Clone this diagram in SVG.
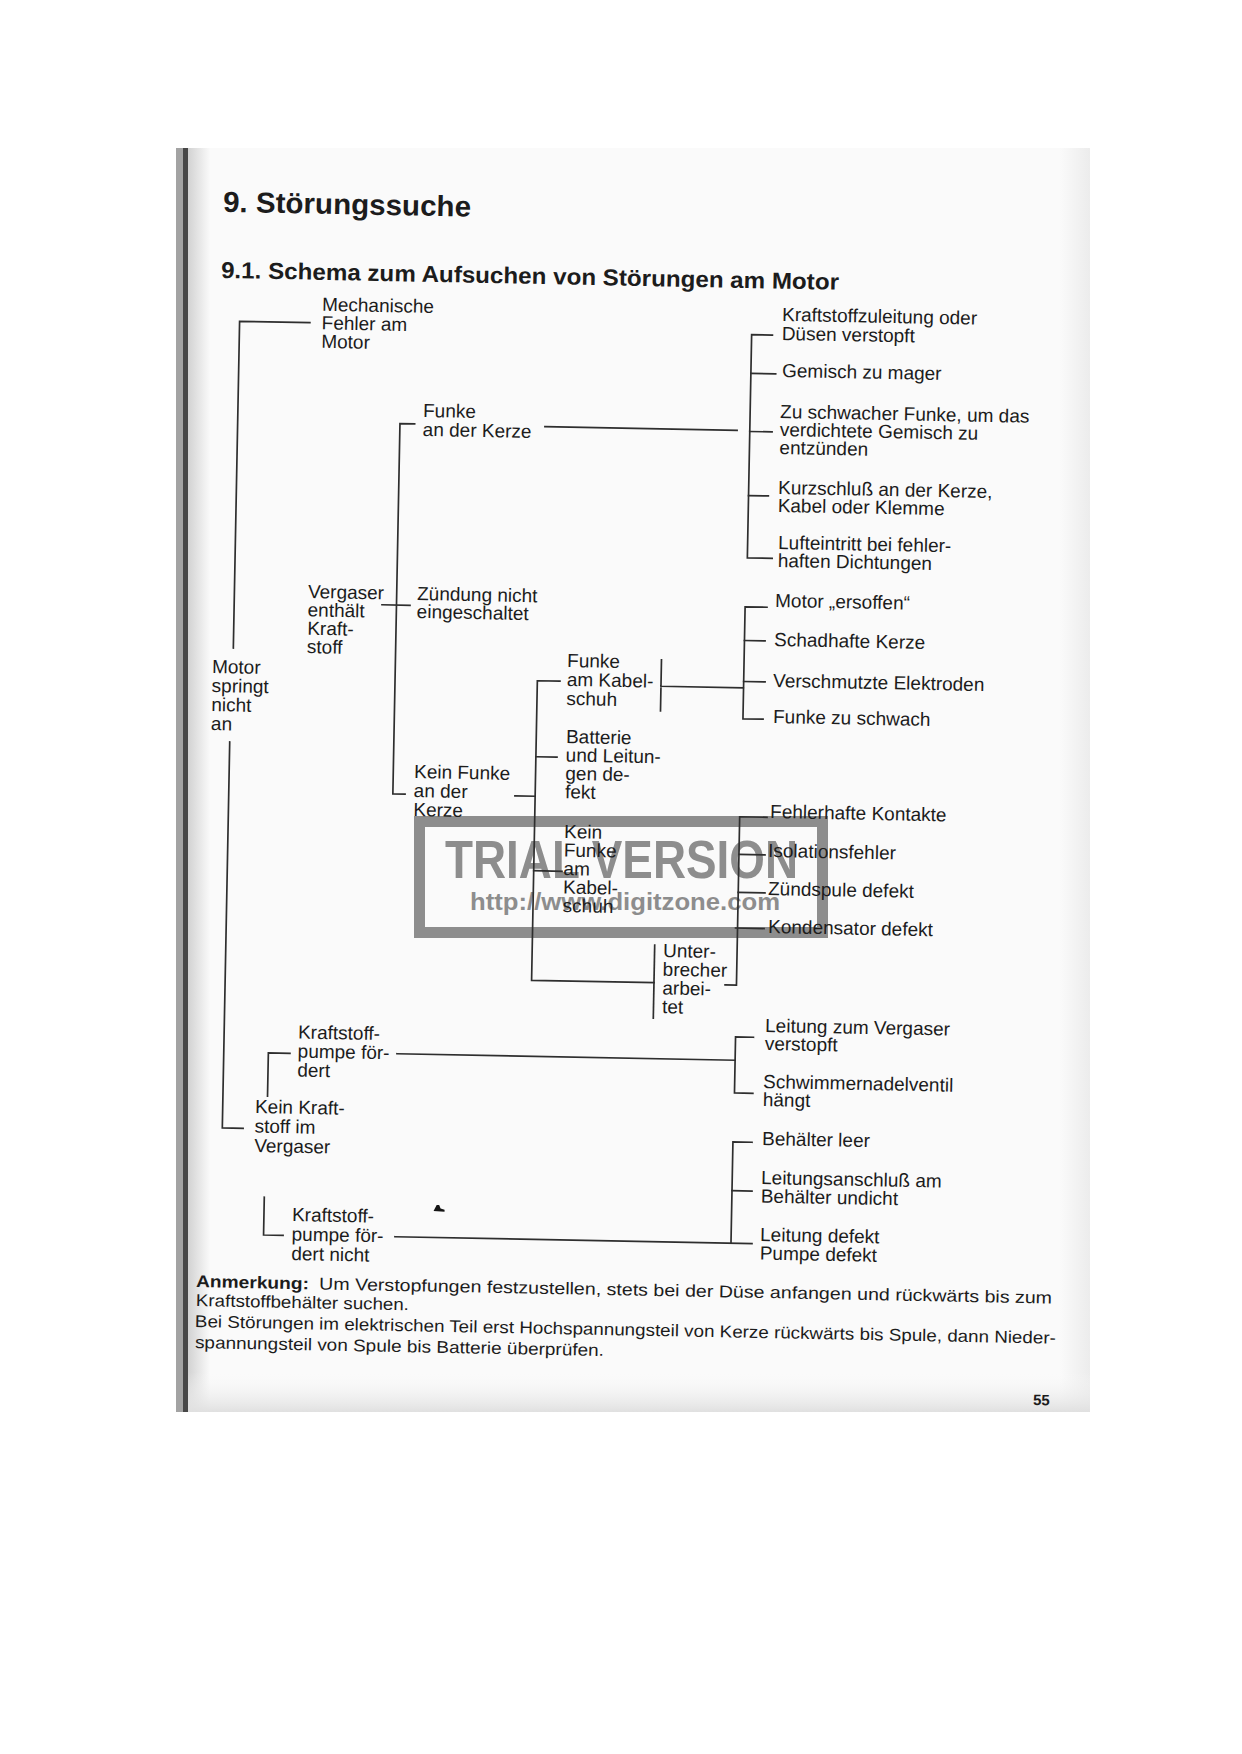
<svg xmlns="http://www.w3.org/2000/svg" width="1242" height="1754" viewBox="0 0 1242 1754">
<defs>
<style>
.t{font-family:"Liberation Sans",Arial,Helvetica,sans-serif;font-size:19px;fill:#1c1c1c}
.b{font-weight:bold}
.c{fill:none;stroke:#2e2e2e;stroke-width:1.7;stroke-linecap:square}
.wm{font-family:"Liberation Sans",Arial,Helvetica,sans-serif;font-weight:bold;fill:#8d8d8d}
</style>
<linearGradient id="lg" x1="0" y1="0" x2="1" y2="0">
<stop offset="0" stop-color="#d2d2d2"/>
<stop offset="1" stop-color="#fafafa"/>
</linearGradient>
<linearGradient id="bb" x1="0" y1="0" x2="0" y2="1">
<stop offset="0" stop-color="#fafafa" stop-opacity="0"/>
<stop offset="1" stop-color="#e0e0e0"/>
</linearGradient>
<linearGradient id="rb" x1="0" y1="0" x2="1" y2="0">
<stop offset="0" stop-color="#fafafa"/>
<stop offset="1" stop-color="#ececec"/>
</linearGradient>
</defs>
<rect width="1242" height="1754" fill="#ffffff"/>
<g id="page">
<rect x="176" y="148" width="914" height="1264" fill="#fafafa"/>
<rect x="1060" y="148" width="30" height="1264" fill="url(#rb)"/>
<rect x="188" y="148" width="22" height="1264" fill="url(#lg)"/>
<rect x="176" y="1372" width="914" height="40" fill="url(#bb)"/>
<rect x="176" y="148" width="7" height="1264" fill="#a3a3a3"/>
<rect x="183" y="148" width="5" height="1264" fill="#474747"/>
</g>
<g id="watermark">
<rect x="419.5" y="821.5" width="403" height="111" fill="none" stroke="#8d8d8d" stroke-width="11"/>
<text class="wm" x="445" y="878" style="font-size:53px" textLength="353" lengthAdjust="spacingAndGlyphs">TRIAL VERSION</text>
<text class="wm" x="470" y="910" style="font-size:23px" textLength="310" lengthAdjust="spacingAndGlyphs">http://www.digitzone.com</text>
</g>
<g id="content" transform="rotate(1.1 621 877)">
<g id="titles">
<text class="t b" x="210.2" y="219.6" style="font-size:29px" textLength="248" lengthAdjust="spacingAndGlyphs">9. Störungssuche</text>
<text class="t b" x="209.5" y="285.7" style="font-size:23px" textLength="618" lengthAdjust="spacingAndGlyphs">9.1. Schema zum Aufsuchen von Störungen am Motor</text>
</g>
<g id="connectors">
<path class="c" d="M299.3,328.7 H229 V655.5"/>
<path class="c" d="M227.2,749.5 V1135.5 H248"/>
<path class="c" d="M406,428 H391.3 V798.2 H403.5"/>
<path class="c" d="M376.8,609.4 H404.8"/>
<path class="c" d="M536.3,428.2 H728.5"/>
<path class="c" d="M762,332.3 H741.2 V555.5 H766"/>
<path class="c" d="M741.2,371 H766 M741.2,429.1 H763.5 M741.2,493.2 H761"/>
<path class="c" d="M761.8,604.5 H739.9 V716.5 H760"/>
<path class="c" d="M739.9,638.2 H760.5 M739.9,679.2 H761.3"/>
<path class="c" d="M657.3,659.2 V710.2 M657.3,685.5 H739.6"/>
<path class="c" d="M513.4,797.9 H533.6"/>
<path class="c" d="M556.2,682.4 H533.6 V982 H656"/>
<path class="c" d="M533.6,758.4 H554.7 M533.6,872.4 H561.9"/>
<path class="c" d="M656,944.4 V1017.4"/>
<path class="c" d="M727.1,982.9 H738.5 V814.5 H765.8"/>
<path class="c" d="M738.5,852.2 H764.6 M738.5,890.2 H765.3 M736.5,925.8 H765"/>
<path class="c" d="M293.4,1059.6 H271.8 V1102.8"/>
<path class="c" d="M400.4,1058 H738.6"/>
<path class="c" d="M756.5,1034.7 H738.6 V1090.7 H757"/>
<path class="c" d="M270.5,1204 V1241.8 H290"/>
<path class="c" d="M401.9,1241 H759"/>
<path class="c" d="M757.1,1139.7 H738 V1241"/>
<path class="c" d="M738,1188.5 H758"/>
</g>
<g id="n-root"><text class="t" x="208.1" y="680.9">Motor<tspan x="208.1" dy="19">springt</tspan><tspan x="208.1" dy="19">nicht</tspan><tspan x="208.1" dy="19">an</tspan></text></g>
<g id="n-mech"><text class="t" x="311.1" y="316.7">Mechanische<tspan x="311.1" dy="18.5">Fehler am</tspan><tspan x="311.1" dy="18.5">Motor</tspan></text></g>
<g id="n-funke-kerze"><text class="t" x="414.2" y="420.8">Funke<tspan x="414.2" dy="19">an der Kerze</tspan></text></g>
<g id="n-vergaser"><text class="t" x="302.6" y="604">Vergaser<tspan x="302.6" dy="18.4">enthält</tspan><tspan x="302.6" dy="18.4">Kraft-</tspan><tspan x="302.6" dy="18.4">stoff</tspan></text></g>
<g id="n-zuendung"><text class="t" x="411.7" y="603.9">Zündung nicht<tspan x="411.7" dy="18">eingeschaltet</tspan></text></g>
<g id="n-kein-funke-kerze"><text class="t" x="412.1" y="782">Kein Funke<tspan x="412.1" dy="19">an der</tspan><tspan x="412.1" dy="19">Kerze</tspan></text></g>
<g id="n-funke-kabelschuh"><text class="t" x="563" y="668">Funke<tspan x="563" dy="19">am Kabel-</tspan><tspan x="563" dy="19">schuh</tspan></text></g>
<g id="n-batterie"><text class="t" x="563.4" y="744.1">Batterie<tspan x="563.4" dy="18.4">und Leitun-</tspan><tspan x="563.4" dy="18.4">gen de-</tspan><tspan x="563.4" dy="18.4">fekt</tspan></text></g>
<g id="n-kein-funke-kabelschuh"><text class="t" x="563.3" y="839.1">Kein<tspan x="563.3" dy="18.5">Funke</tspan><tspan x="563.3" dy="18.5">am</tspan><tspan x="563.3" dy="18.5">Kabel-</tspan><tspan x="563.3" dy="18.5">schuh</tspan></text></g>
<g id="n-unterbrecher"><text class="t" x="664.5" y="956.2">Unter-<tspan x="664.5" dy="18.7">brecher</tspan><tspan x="664.5" dy="18.7">arbei-</tspan><tspan x="664.5" dy="18.7">tet</tspan></text></g>
<g id="n-l1"><text class="t" x="771.3" y="317.9">Kraftstoffzuleitung oder<tspan x="771.3" dy="19">Düsen verstopft</tspan></text></g>
<g id="n-l2"><text class="t" x="772.4" y="373.9">Gemisch zu mager</text></g>
<g id="n-l3"><text class="t" x="771.2" y="415">Zu schwacher Funke, um das<tspan x="771.2" dy="18">verdichtete Gemisch zu</tspan><tspan x="771.2" dy="18">entzünden</tspan></text></g>
<g id="n-l4"><text class="t" x="770.6" y="491">Kurzschluß an der Kerze,<tspan x="770.6" dy="18">Kabel oder Klemme</tspan></text></g>
<g id="n-l5"><text class="t" x="771.7" y="546">Lufteintritt bei fehler-<tspan x="771.7" dy="18">haften Dichtungen</tspan></text></g>
<g id="n-l6"><text class="t" x="769.8" y="604">Motor „ersoffen“</text></g>
<g id="n-l7"><text class="t" x="769.6" y="643.1">Schadhafte Kerze</text></g>
<g id="n-l8"><text class="t" x="769.4" y="684.1">Verschmutzte Elektroden</text></g>
<g id="n-l9"><text class="t" x="770" y="720.1">Funke zu schwach</text></g>
<g id="n-l10"><text class="t" x="768.9" y="815.1">Fehlerhafte Kontakte</text></g>
<g id="n-l11"><text class="t" x="767.6" y="854.2">Isolationsfehler</text></g>
<g id="n-l12"><text class="t" x="768.3" y="892.2">Zündspule defekt</text></g>
<g id="n-l13"><text class="t" x="769.1" y="930.2">Kondensator defekt</text></g>
<g id="n-kein-kraftstoff"><text class="t" x="259.5" y="1120">Kein Kraft-<tspan x="259.5" dy="19.5">stoff im</tspan><tspan x="259.5" dy="19.5">Vergaser</tspan></text></g>
<g id="n-pumpe-foerdert"><text class="t" x="301.1" y="1044.7">Kraftstoff-<tspan x="301.1" dy="19">pumpe för-</tspan><tspan x="301.1" dy="19">dert</tspan></text></g>
<g id="n-pumpe-nicht"><text class="t" x="298.6" y="1227.3">Kraftstoff-<tspan x="298.6" dy="19.5">pumpe för-</tspan><tspan x="298.6" dy="19.5">dert nicht</tspan></text></g>
<g id="n-l14"><text class="t" x="768" y="1029.2">Leitung zum Vergaser<tspan x="768" dy="18">verstopft</tspan></text></g>
<g id="n-l15"><text class="t" x="767.1" y="1085.3">Schwimmernadelventil<tspan x="767.1" dy="18">hängt</tspan></text></g>
<g id="n-l16"><text class="t" x="767.2" y="1142.3">Behälter leer</text></g>
<g id="n-l17"><text class="t" x="766.9" y="1181.3">Leitungsanschluß am<tspan x="766.9" dy="18.5">Behälter undicht</tspan></text></g>
<g id="n-l18"><text class="t" x="767" y="1238.3">Leitung defekt<tspan x="767" dy="18.5">Pumpe defekt</tspan></text></g>
<path d="M440,1214.5 l3,-6 l2.5,0 l1.5,3.5 l4,1 l0,2 z" fill="#151515"/>
<g id="footnote">
<text class="t b" x="203.9" y="1295.2" style="font-size:17px" textLength="113" lengthAdjust="spacingAndGlyphs">Anmerkung:</text>
<text class="t" x="327" y="1295.2" style="font-size:17px" textLength="733" lengthAdjust="spacingAndGlyphs">Um Verstopfungen festzustellen, stets bei der Düse anfangen und rückwärts bis zum</text>
<text class="t" x="204.2" y="1314.2" style="font-size:17px" textLength="213" lengthAdjust="spacingAndGlyphs">Kraftstoffbehälter suchen.</text>
<text class="t" x="203.6" y="1335.2" style="font-size:17px" textLength="861" lengthAdjust="spacingAndGlyphs">Bei Störungen im elektrischen Teil erst Hochspannungsteil von Kerze rückwärts bis Spule, dann Nieder-</text>
<text class="t" x="204" y="1356.2" style="font-size:17px" textLength="409" lengthAdjust="spacingAndGlyphs">spannungsteil von Spule bis Batterie überprüfen.</text>
<text class="t b" x="1043.1" y="1397.1" style="font-size:15px">55</text>
</g>
</g>
</svg>
